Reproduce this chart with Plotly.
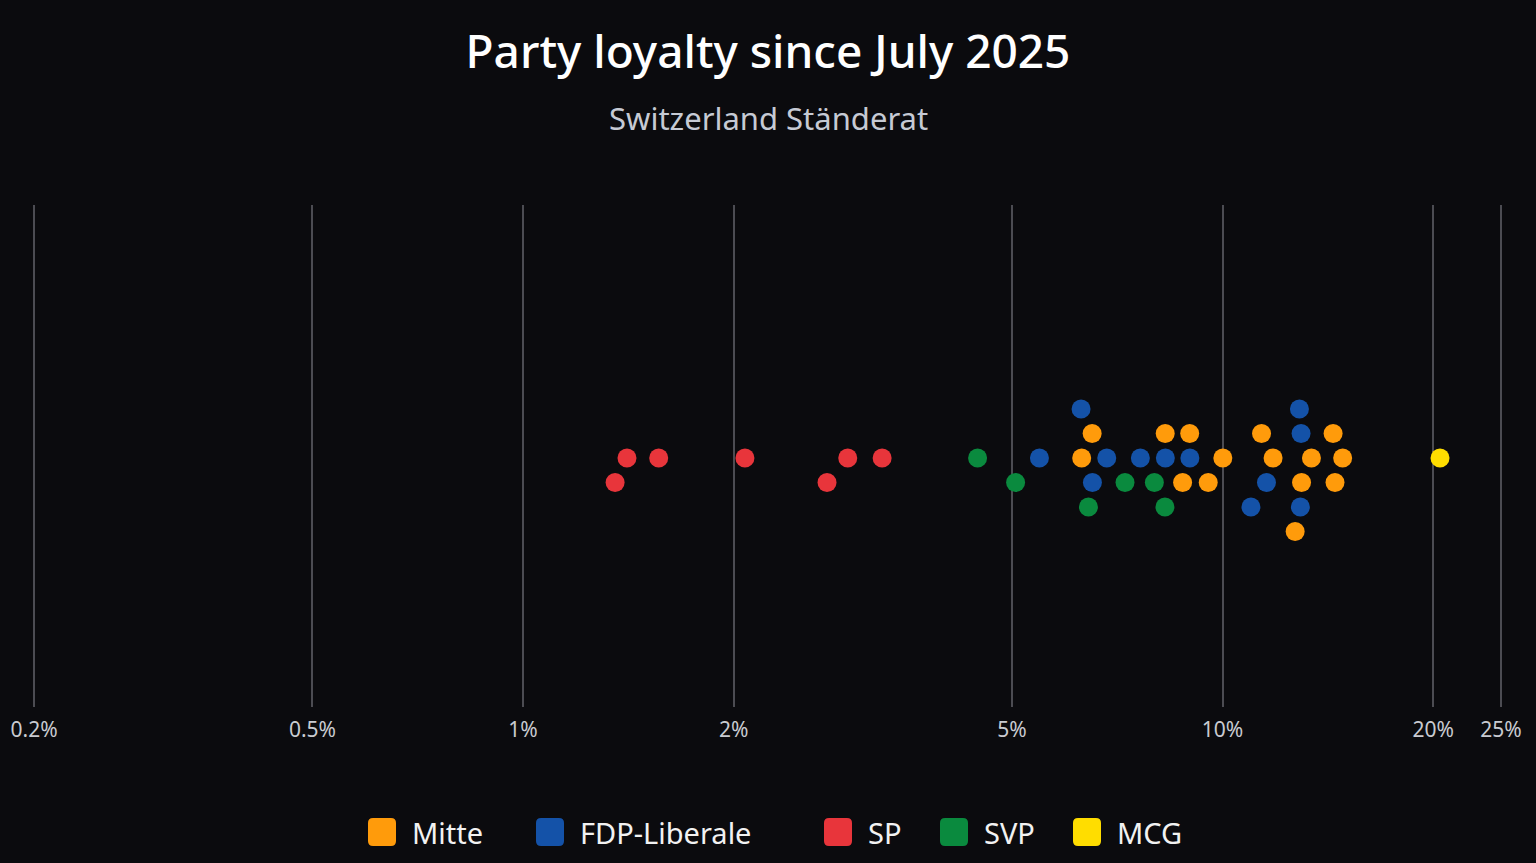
import numpy as np
import plotly.graph_objects as go

TITLE = "Party loyalty since July 2025"
SUBTITLE = "Switzerland Ständerat"

PARTIES = ["Mitte", "FDP-Liberale", "SP", "SVP", "MCG"]
PARTY_COLORS = {
    "Mitte": "#FF9B0B",
    "FDP-Liberale": "#1452A8",
    "SP": "#E8353B",
    "SVP": "#0A8A3E",
    "MCG": "#FFDD00",
}

# votes against the party majority, in percent, one value per member
MITTE = [6.29, 6.51, 8.28, 8.768, 8.975, 9.54, 10.01, 11.37, 11.81, 12.70, 12.97, 13.40, 14.39, 14.48, 14.85]
FDP = [5.473, 6.277, 6.516, 6.831, 7.630, 8.284, 8.981, 10.98, 11.556, 12.88, 12.92, 12.95]
SP = [1.354, 1.408, 1.563, 2.076, 2.720, 2.912, 3.261]
SVP = [4.465, 5.060, 6.431, 7.254, 7.990, 8.273]
MCG = [20.46]

TICK_VALUES = [0.2, 0.5, 1, 2, 5, 10, 20, 25]
TICK_LABELS = ["0.2%", "0.5%", "1%", "2%", "5%", "10%", "20%", "25%"]

BG = "#0B0B0E"
GRID = "#4C4C52"

# plot box in pixels (range is padded by ~2px each side so end gridlines survive)
WIDTH, HEIGHT = 1536, 863
M_LEFT, M_RIGHT, M_TOP, M_BOTTOM = 32, 33, 205, 156
ROW_PX = 24.5
COLLIDE = 0.0345  # minimum gap between dots in one row, log10 units
EPS = 0.003  # range padding, log10 units


def beeswarm(values):
    """Greedy swarm: largest first, each dot takes the first free row 0, -1, +1, -2, ..."""
    order = sorted(range(len(values)), key=lambda i: -values[i][1])
    placed = {}
    rows = [0] * len(values)
    for i in order:
        lx = np.log10(values[i][1])
        k = 0
        while True:
            row = (k + 1) // 2 * (-1 if k % 2 else 1)
            if all(abs(lx - other) >= COLLIDE for other in placed.get(row, [])):
                break
            k += 1
        placed.setdefault(row, []).append(lx)
        rows[i] = row
    return rows


points = []
for party, vals in zip(PARTIES, [MITTE, FDP, SP, SVP, MCG]):
    points.extend((party, v) for v in vals)
rows = beeswarm(points)

fig = go.Figure()
for party in PARTIES:
    xs = [v for (p, v) in points if p == party]
    ys = [r for (p, v), r in zip(points, rows) if p == party]
    fig.add_trace(
        go.Scatter(
            x=xs,
            y=ys,
            mode="markers",
            name=party,
            marker={"size": 19, "color": PARTY_COLORS[party], "line": {"width": 0}},
            hovertemplate=f"{party}<br>%{{x:.1f}}%<extra></extra>",
            showlegend=False,
        )
    )

plot_h = HEIGHT - M_TOP - M_BOTTOM
plot_w = WIDTH - M_LEFT - M_RIGHT
y_top = (458 - M_TOP) / ROW_PX
y_bottom = y_top - plot_h / ROW_PX


def paper_x(px):
    return (px - M_LEFT) / plot_w


def paper_y(py):
    return (HEIGHT - M_BOTTOM - py) / plot_h


# legend drawn by hand so the swatches can be large rounded squares
LEGEND_X = [368, 536, 824, 940, 1073]
legend_y = paper_y(832)
swatch = "M-9,-14 L9,-14 Q14,-14 14,-9 L14,9 Q14,14 9,14 L-9,14 Q-14,14 -14,9 L-14,-9 Q-14,-14 -9,-14 Z"
shapes = []
annotations = []
for party, lx in zip(PARTIES, LEGEND_X):
    shapes.append(
        dict(
            type="path",
            xref="paper",
            yref="paper",
            xsizemode="pixel",
            ysizemode="pixel",
            xanchor=paper_x(lx + 14),
            yanchor=legend_y,
            path=swatch,
            fillcolor=PARTY_COLORS[party],
            line={"width": 0},
        )
    )
    annotations.append(
        dict(
            text=party,
            xref="paper",
            yref="paper",
            x=paper_x(lx + 42),
            y=legend_y,
            xanchor="left",
            yanchor="middle",
            showarrow=False,
            font={"size": 29, "color": "#F2F2F2", "family": "Noto Sans"},
        )
    )

annotations.append(
    dict(
        text=SUBTITLE,
        xref="paper",
        yref="paper",
        x=paper_x(WIDTH / 2),
        y=paper_y(118),
        xanchor="center",
        yanchor="middle",
        showarrow=False,
        font={"size": 31, "color": "#C6CAD4", "family": "Noto Sans"},
    )
)

fig.update_layout(
    width=WIDTH,
    height=HEIGHT,
    margin={"l": M_LEFT, "r": M_RIGHT, "t": M_TOP, "b": M_BOTTOM},
    paper_bgcolor=BG,
    plot_bgcolor=BG,
    font={"family": "Noto Sans", "color": "#C9CBD1"},
    title={
        "text": TITLE,
        "x": 0.5,
        "xanchor": "center",
        "y": 1 - 52 / HEIGHT,
        "yanchor": "middle",
        "font": {"size": 46, "color": "#FFFFFF", "family": "Noto Sans", "weight": 500},
    },
    xaxis={
        "type": "log",
        "range": [np.log10(0.2) - EPS, np.log10(25) + EPS],
        "tickvals": TICK_VALUES,
        "ticktext": TICK_LABELS,
        "showgrid": True,
        "gridcolor": GRID,
        "gridwidth": 1.5,
        "zeroline": False,
        "showline": False,
        "ticks": "",
        "ticklabelstandoff": 8,
        "tickfont": {"size": 21, "color": "#C9CBD1"},
        "fixedrange": True,
    },
    yaxis={
        "range": [y_bottom, y_top],
        "visible": False,
        "fixedrange": True,
    },
    shapes=shapes,
    annotations=annotations,
    showlegend=False,
)

fig.write_html(
    "out.html",
    config={"displayModeBar": False},
    post_script="document.body.style.margin='0';document.body.style.background='#0B0B0E';",
)
